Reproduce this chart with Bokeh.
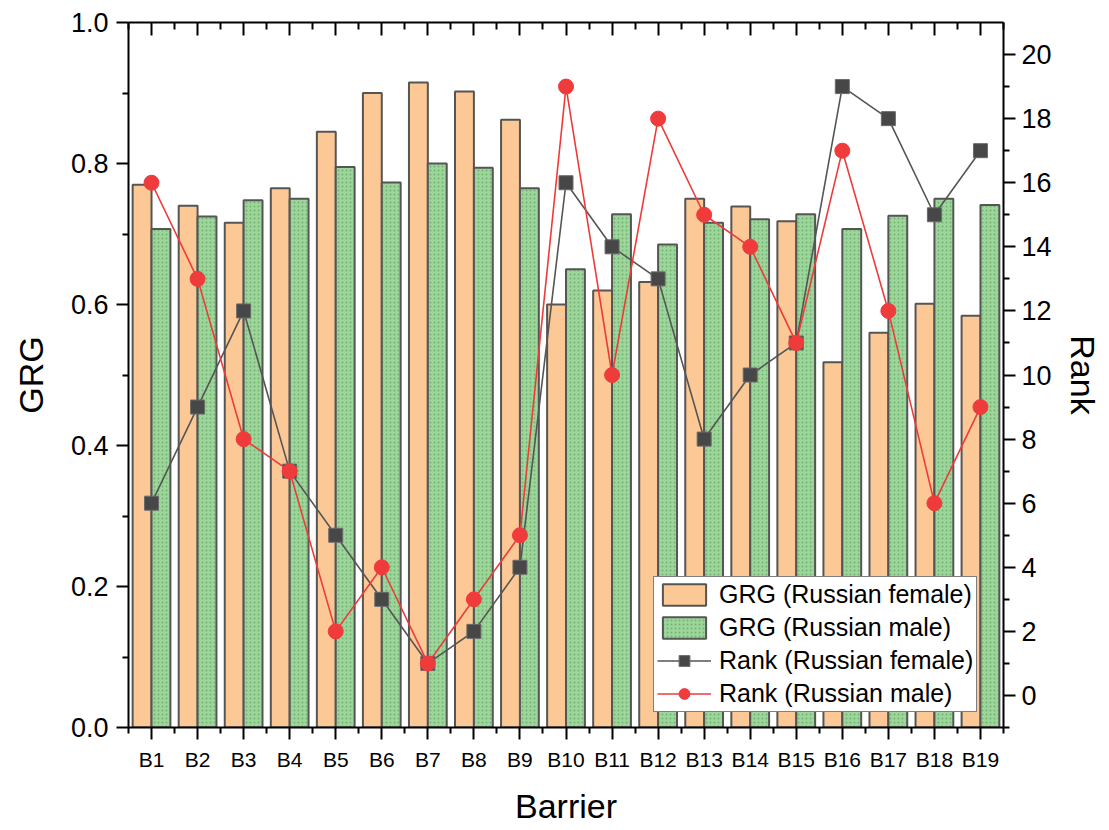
from bokeh.plotting import figure
from bokeh.models import (ColumnDataSource, Range1d, LinearAxis, FixedTicker,
                          Legend, LegendItem)
from bokeh.transform import dodge
from bokeh.embed import file_html
from bokeh.resources import INLINE

categories = ["B1", "B2", "B3", "B4", "B5", "B6", "B7", "B8", "B9", "B10",
              "B11", "B12", "B13", "B14", "B15", "B16", "B17", "B18", "B19"]
grg_female = [0.770, 0.740, 0.716, 0.765, 0.845, 0.900, 0.915, 0.902, 0.862, 0.600,
              0.620, 0.632, 0.750, 0.739, 0.718, 0.518, 0.560, 0.601, 0.584]
grg_male = [0.707, 0.725, 0.748, 0.750, 0.795, 0.773, 0.800, 0.794, 0.765, 0.650,
            0.728, 0.685, 0.716, 0.721, 0.728, 0.707, 0.726, 0.750, 0.741]
rank_female = [6, 9, 12, 7, 5, 3, 1, 2, 4, 16, 14, 13, 8, 10, 11, 19, 18, 15, 17]
rank_male = [16, 13, 8, 7, 2, 4, 1, 3, 5, 19, 10, 18, 15, 14, 11, 17, 12, 6, 9]
left_ticks = [0.0, 0.2, 0.4, 0.6, 0.8, 1.0]
right_ticks = [0, 2, 4, 6, 8, 10, 12, 14, 16, 18, 20]

pos = list(range(1, len(categories) + 1))
src = ColumnDataSource(dict(x=pos, cat=categories, gf=grg_female, gm=grg_male,
                            rf=rank_female, rm=rank_male))

FONT = "Liberation Sans"

p = figure(width=1109, height=830, output_backend="svg", toolbar_location=None,
           x_range=Range1d(0.5, 19.5), y_range=Range1d(0, 1.0),
           min_border_left=128, min_border_right=106, min_border_top=22,
           min_border_bottom=103, x_axis_location=None, y_axis_location=None)
p.grid.visible = False
p.outline_line_color = None
p.background_fill_color = "white"
p.extra_y_ranges = {"rank": Range1d(-1, 21)}

bw = 0.41
rf = p.vbar(x=dodge("x", -bw / 2, range=p.x_range), top="gf", width=bw, bottom=0,
            source=src, fill_color="#FBC896", line_color="#555555", line_width=2)
rm = p.vbar(x=dodge("x", bw / 2, range=p.x_range), top="gm", width=bw, bottom=0,
            source=src, fill_color="#9DD69B", line_color="#555555", line_width=2,
            hatch_pattern="dot", hatch_color="#5E9A5C", hatch_scale=4, hatch_alpha=0.6)

lf = p.line("x", "rf", source=src, y_range_name="rank", line_color="#555555", line_width=1.6)
sf = p.scatter("x", "rf", source=src, y_range_name="rank", marker="square", size=14,
               fill_color="#474747", line_color="#6a6a6a", line_width=1)
lm = p.line("x", "rm", source=src, y_range_name="rank", line_color="#F03A3A", line_width=1.6)
sm = p.scatter("x", "rm", source=src, y_range_name="rank", marker="circle", size=15,
               fill_color="#EF3B3B", line_color="#EF3B3B")

def style(ax, size="27px"):
    ax.axis_line_width = 2
    ax.axis_line_color = "black"
    ax.major_tick_line_width = 2
    ax.minor_tick_line_width = 2
    ax.major_tick_line_color = "black"
    ax.minor_tick_line_color = "black"
    ax.major_tick_out = 12
    ax.major_tick_in = 0
    ax.minor_tick_out = 6
    ax.minor_tick_in = 0
    ax.major_label_text_font = FONT
    ax.major_label_text_font_size = size
    ax.major_label_text_color = "black"
    ax.axis_label_text_font = FONT
    ax.axis_label_text_font_size = "34px"
    ax.axis_label_text_font_style = "normal"
    ax.axis_label_text_color = "black"
    ax.major_label_standoff = 8

xmin = [i + 0.5 for i in range(0, len(categories) + 1)]
xb = LinearAxis(ticker=FixedTicker(ticks=pos, minor_ticks=xmin), axis_label="Barrier",
                major_label_overrides={i: c for i, c in zip(pos, categories)})
style(xb, "21px")
xb.axis_label_standoff = 13
p.add_layout(xb, "below")

xt = LinearAxis(ticker=FixedTicker(ticks=pos, minor_ticks=xmin),
                major_label_text_font_size="0px")
style(xt, "0px")
xt.major_tick_out = 0
xt.major_tick_in = 13
xt.minor_tick_out = 0
xt.minor_tick_in = 7
xt.major_label_text_alpha = 0
p.add_layout(xt, "above")

yl = LinearAxis(ticker=FixedTicker(ticks=left_ticks, minor_ticks=[0.1, 0.3, 0.5, 0.7, 0.9]),
                axis_label="GRG",
                major_label_overrides={t: "%.1f" % t for t in left_ticks})
style(yl)
yl.axis_label_standoff = 18
p.add_layout(yl, "left")

yr = LinearAxis(y_range_name="rank",
                ticker=FixedTicker(ticks=right_ticks, minor_ticks=[-1, 1, 3, 5, 7, 9, 11, 13, 15, 17, 19]),
                axis_label="Rank")
style(yr)
yr.axis_label_standoff = 9
yr.major_label_standoff = 6
p.add_layout(yr, "right")

legend = Legend(items=[
    LegendItem(label="GRG (Russian female)", renderers=[rf]),
    LegendItem(label="GRG (Russian male)", renderers=[rm]),
    LegendItem(label="Rank (Russian female)", renderers=[lf, sf]),
    LegendItem(label="Rank (Russian male)", renderers=[lm, sm]),
], location=(525, 15))
legend.label_text_font = FONT
legend.label_text_font_size = "25px"
legend.label_text_color = "black"
legend.border_line_color = "black"
legend.border_line_width = 1
legend.background_fill_alpha = 1
legend.glyph_width = 54
legend.glyph_height = 27
legend.label_height = 27
legend.spacing = 4
legend.padding = 3
legend.margin = 0
legend.label_standoff = 8
p.add_layout(legend)

open("out.html", "w").write(file_html(p, INLINE))
